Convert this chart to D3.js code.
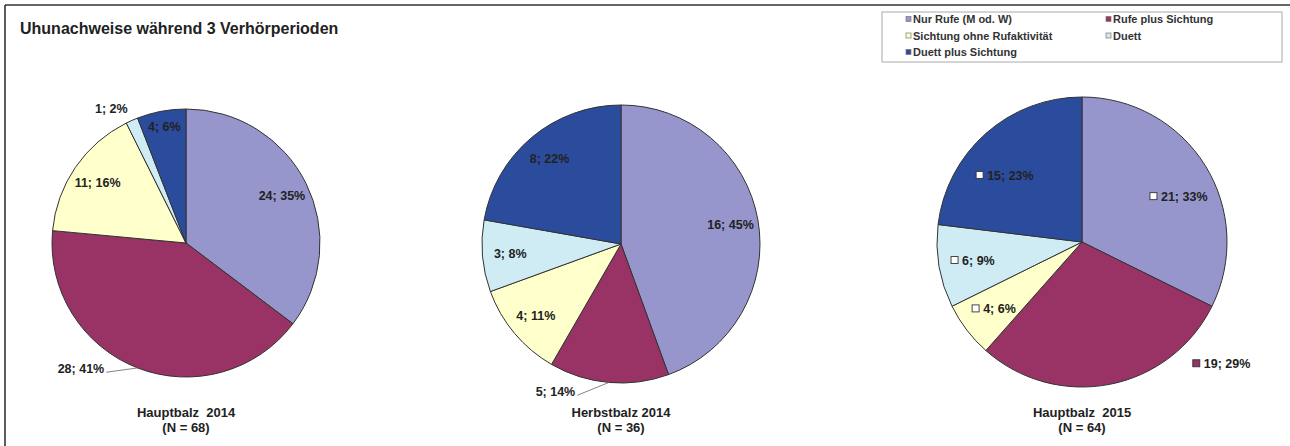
<!DOCTYPE html>
<html>
<head>
<meta charset="utf-8">
<script src="https://cdn.jsdelivr.net/npm/d3@7"></script>
<style>
    body { margin: 0; background: #fff; }
    text { font-family: "Liberation Sans", Arial, sans-serif; font-weight: bold; fill: #222; }
</style>
</head>
<body>
<div id="chart"></div>
<script>
// categories (legend order = slice order, clockwise from 12 o'clock)
const categories = ["Nur Rufe (M od. W)", "Rufe plus Sichtung", "Sichtung ohne Rufaktivität", "Duett", "Duett plus Sichtung"];
const periods = ["Hauptbalz  2014", "Herbstbalz 2014", "Hauptbalz  2015"];
const sampleSizes = [68, 36, 64];

// counts and printed percentages per period
const countsHaupt2014 = [24, 28, 11, 1, 4];
const countsHerbst2014 = [16, 5, 4, 3, 8];
const countsHaupt2015 = [21, 19, 4, 6, 15];
const pctHaupt2014 = [35, 41, 16, 2, 6];
const pctHerbst2014 = [45, 14, 11, 8, 22];
const pctHaupt2015 = [33, 29, 6, 9, 23];

const colors = ["#9696cc", "#993366", "#ffffcc", "#cfecf5", "#2b4c9c"];

// where each pie sits
const pieLayout = [
    {cx: 186, cy: 243, r: 134, markers: false},
    {cx: 621, cy: 244, r: 139, markers: false},
    {cx: 1082, cy: 242, r: 145, markers: true}
];
// label tweaks (angle in degrees from 12 o'clock, k = fraction of radius)
const labelPlace = [
    {1: {angle: 220, k: 1.22, leader: true}, 3: {angle: 331, k: 1.15}, 4: {k: 0.88}},
    {1: {angle: 204, k: 1.16, leader: true}},
    {0: {angle: 65, k: 0.74}, 1: {angle: 131, k: 1.28, outside: true}, 4: {angle: 311, k: 0.70}}
];

const W = 1290, H = 446;
const svg = d3.select("#chart").append("svg")
    .attr("width", W)
    .attr("height", H);

// frame (top + left only)
svg.append("line").attr("x1", 5).attr("y1", 5).attr("x2", W).attr("y2", 5)
    .attr("stroke", "#333").attr("stroke-width", 1.6);
svg.append("line").attr("x1", 5).attr("y1", 5).attr("x2", 5).attr("y2", H)
    .attr("stroke", "#333").attr("stroke-width", 1.6);

svg.append("text")
    .attr("x", 20)
    .attr("y", 34)
    .style("font-size", "16px")
    .text("Uhunachweise während 3 Verhörperioden");

const allCounts = [countsHaupt2014, countsHerbst2014, countsHaupt2015];
const allPct = [pctHaupt2014, pctHerbst2014, pctHaupt2015];

const pie = d3.pie().sort(null).value(d => d);

allCounts.forEach(function (counts, p) {
    const lay = pieLayout[p];
    const g = svg.append("g").attr("transform", "translate(" + lay.cx + "," + lay.cy + ")");
    const arcs = pie(counts);
    const arc = d3.arc().innerRadius(0).outerRadius(lay.r);

    g.selectAll(".slice")
        .data(arcs)
        .enter()
        .append("path")
        .attr("class", "slice")
        .attr("d", arc)
        .attr("fill", (d, i) => colors[i])
        .attr("stroke", "#333")
        .attr("stroke-width", 1);

    arcs.forEach(function (d, i) {
        const opt = labelPlace[p][i] || {};
        const mid = (d.startAngle + d.endAngle) / 2;
        const a = opt.angle !== undefined ? opt.angle * Math.PI / 180 : mid;
        const k = opt.k || (lay.markers ? 0.76 : 0.8);
        const x = Math.sin(a) * k * lay.r;
        const y = -Math.cos(a) * k * lay.r;
        const label = counts[i] + "; " + allPct[p][i] + "%";

        const t = g.append("text")
            .attr("x", x)
            .attr("y", y)
            .attr("dy", "0.35em")
            .attr("text-anchor", "middle")
            .style("font-size", "12.5px")
            .text(label);
        const tw = t.node().getComputedTextLength();

        if (lay.markers) {
            t.attr("x", x + 5);
            g.append("rect")
                .attr("x", x - tw / 2 - 6)
                .attr("y", y - 4)
                .attr("width", 7)
                .attr("height", 7)
                .attr("fill", opt.outside ? colors[i] : "#fff")
                .attr("stroke", "#333")
                .attr("stroke-width", 0.9);
        }
        if (opt.leader) {
            g.append("line")
                .attr("x1", x + tw / 2 + 2)
                .attr("y1", y + 4)
                .attr("x2", Math.sin(mid) * lay.r)
                .attr("y2", -Math.cos(mid) * lay.r)
                .attr("stroke", "#777")
                .attr("stroke-width", 0.9);
        }
    });

    g.append("text")
        .attr("x", 0)
        .attr("y", 417 - lay.cy)
        .attr("text-anchor", "middle")
        .style("font-size", "13px")
        .style("white-space", "pre")
        .text(periods[p]);
    g.append("text")
        .attr("x", 0)
        .attr("y", 432 - lay.cy)
        .attr("text-anchor", "middle")
        .style("font-size", "13px")
        .text("(N = " + sampleSizes[p] + ")");
});

// legend
const legend = svg.append("g").attr("transform", "translate(882, 12)");
legend.append("rect")
    .attr("width", 400)
    .attr("height", 50)
    .attr("fill", "#fff")
    .attr("stroke", "#aaa")
    .attr("stroke-width", 1);

const item = legend.selectAll(".item")
    .data(categories)
    .enter()
    .append("g")
    .attr("class", "item")
    .attr("transform", (d, i) => "translate(" + (i % 2 === 0 ? 24 : 224) + "," + (7.5 + Math.floor(i / 2) * 16.5) + ")");

item.append("rect")
    .attr("x", 0)
    .attr("y", -3)
    .attr("width", 5)
    .attr("height", 5)
    .attr("fill", (d, i) => colors[i])
    .attr("stroke", "#777")
    .attr("stroke-width", 0.7);

item.append("text")
    .attr("x", 7)
    .attr("dy", "0.35em")
    .style("font-size", "11px")
    .style("fill", "#333")
    .text(d => d);
</script>
</body>
</html>
